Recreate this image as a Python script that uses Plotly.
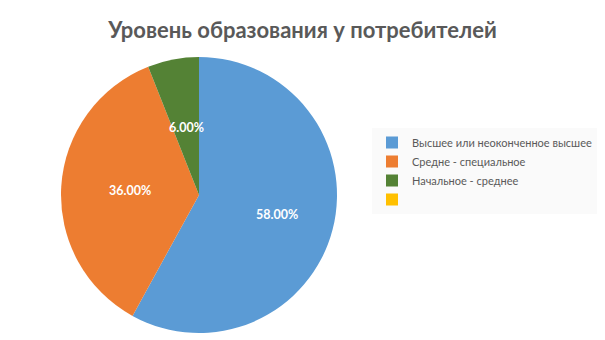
import math
import plotly.graph_objects as go

categories = ["Высшее или неоконченное высшее", "Средне - специальное", "Начальное - среднее", " "]
values = [58, 36, 6, 0]
colors = ["#5B9BD5", "#ED7D31", "#548235", "#FFC000"]

W, H = 605, 340
dom_x = [61 / W, 337 / W]
dom_y = [1 - 333 / H, 1 - 57 / H]

fig = go.Figure(go.Pie(
    labels=categories,
    values=values,
    textinfo="none",
    marker=dict(colors=colors, line=dict(width=0)),
    sort=False,
    direction="clockwise",
    rotation=0,
    domain=dict(x=dom_x, y=dom_y),
    hoverinfo="label+percent",
    showlegend=True,
))

# data labels placed at the middle angle of each slice (computed from values)
cx = (dom_x[0] + dom_x[1]) / 2 * W
cy = (1 - (dom_y[0] + dom_y[1]) / 2) * H
r = (dom_x[1] - dom_x[0]) * W / 2
total = sum(values)
start = 0.0
annotations = []
for v in values:
    frac = v / total
    if v > 0:
        mid = (start + frac / 2) * 2 * math.pi
        dist = r * (0.58 if frac > 0.5 else 0.5)
        px = cx + dist * math.sin(mid)
        py = cy - dist * math.cos(mid)
        annotations.append(dict(
            x=px / W, y=1 - py / H, xref="paper", yref="paper",
            text=f"{frac * 100:.2f}%", showarrow=False,
            xanchor="center", yanchor="middle",
            font=dict(family="Lato", size=12.5, color="white", weight="bold"),
        ))
    start += frac

fig.update_layout(
    width=W, height=H,
    margin=dict(l=0, r=0, t=0, b=0, autoexpand=False),
    paper_bgcolor="white",
    title=dict(text="<b>Уровень образования у потребителей</b>",
               x=0.5, xanchor="center", y=1 - 30 / H, yanchor="middle",
               font=dict(family="Lato", size=22, color="#595959")),
    legend=dict(x=372 / W, xanchor="left", y=1 - 128 / H, yanchor="top",
                bgcolor="#FAFAFA", font=dict(family="Lato", size=11, color="#595959"),
                itemwidth=30),
    annotations=annotations,
    showlegend=True,
)

fig.write_html("out.html")
